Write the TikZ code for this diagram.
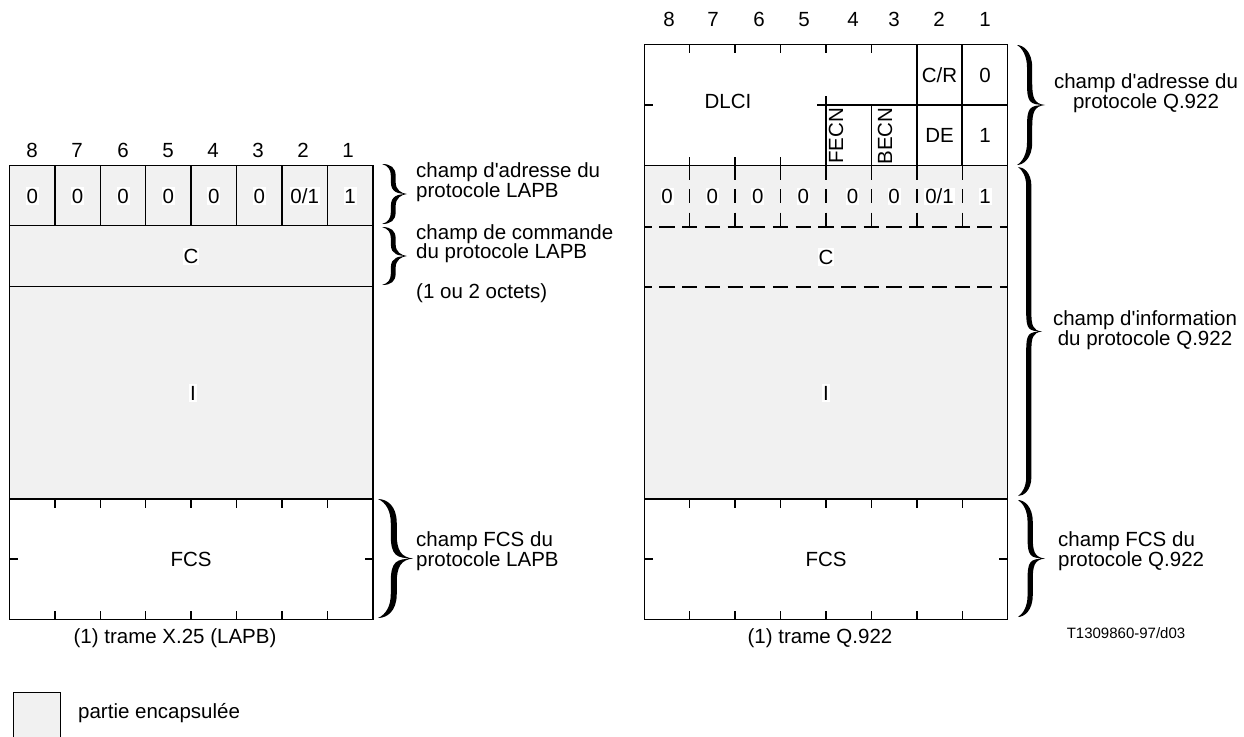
\documentclass[tikz,border=0pt]{standalone}
\usepackage{fontspec}
\setmainfont[Ligatures=TeXOff]{Liberation Sans}
\definecolor{encap}{RGB}{241,241,241}
% filled curly brace: #1 x of ends, #2 top, #3 bottom, #4 width, #5 stem thickness, #6 name of tip
\newcommand{\Cbrace}[6]{%
  \pgfmathsetmacro{\bX}{#1}%
  \pgfmathsetmacro{\bT}{#2}%
  \pgfmathsetmacro{\bB}{#3}%
  \pgfmathsetmacro{\bM}{(#2+#3)/2}%
  \pgfmathsetmacro{\bR}{#1+0.45*#4+#5/2}%
  \pgfmathsetmacro{\bL}{#1+0.45*#4-#5/2}%
  \pgfmathsetmacro{\bP}{#1+#4}%
  \pgfmathsetmacro{\bC}{min(0.8*#4,(#3-#2)/5)}%
  \fill (\bX,\bT) .. controls ({\bR-0.4*\bC},\bT) and (\bR,{\bT+0.3*\bC}) .. (\bR,{\bT+\bC})
   -- (\bR,{\bM-\bC})
   .. controls (\bR,{\bM-0.35*\bC}) and ({\bP-0.5*\bC},{\bM-0.05*\bC}) .. (\bP,\bM)
   .. controls ({\bP-0.5*\bC},{\bM+0.05*\bC}) and (\bR,{\bM+0.35*\bC}) .. (\bR,{\bM+\bC})
   -- (\bR,{\bB-\bC})
   .. controls (\bR,{\bB-0.3*\bC}) and ({\bR-0.4*\bC},\bB) .. (\bX,\bB)
   .. controls ({\bL-0.2*\bC},{\bB-0.15*\bC}) and (\bL,{\bB-0.5*\bC}) .. (\bL,{\bB-\bC})
   -- (\bL,{\bM+\bC})
   .. controls (\bL,{\bM+0.1*\bC}) and ({\bP-0.7*\bC},{\bM+0.02*\bC}) .. (\bP,\bM)
   .. controls ({\bP-0.7*\bC},{\bM-0.02*\bC}) and (\bL,{\bM-0.1*\bC}) .. (\bL,{\bM-\bC})
   -- (\bL,{\bT+\bC})
   .. controls (\bL,{\bT+0.5*\bC}) and ({\bL-0.2*\bC},{\bT+0.15*\bC}) .. (\bX,\bT) -- cycle;
  \coordinate (#6) at (\bP,\bM);
}
\begin{document}
\begin{tikzpicture}[x=1pt,y=-1pt,
  frame/.style={line width=1.5pt, line cap=rect},
  dline/.style={line width=1.5pt, dash pattern=on 15.2pt off 7.5pt, dash phase=7.6pt},
  vdline/.style={line width=1.5pt, dash pattern=on 14pt off 9.5pt},
  txt/.style={inner sep=0pt, font=\fontsize{20.5}{21}\selectfont, anchor=base},
  dig/.style={txt, fill=white, inner xsep=0.8pt, inner ysep=1.2pt, text height=14.7pt, text depth=0pt},
  lab/.style={txt, anchor=base west},
  clab/.style={txt, anchor=base},
]
\useasboundingbox (0,0) rectangle (1244,736);

% ================= left frame (X.25 / LAPB) =================
\fill[encap] (9.5,165.7) rectangle (372.8,499);
\draw[frame] (9.5,165.7) rectangle (372.8,619.3);
\draw[frame] (9.5,225.7) -- (372.8,225.7);
\draw[frame] (9.5,286.7) -- (372.8,286.7);
\draw[frame] (9.5,499) -- (372.8,499);
\foreach \i in {1,...,7}{
  \draw[frame] ({9.5+45.41*\i},165.7) -- ({9.5+45.41*\i},225.7);
  \draw[frame] ({9.5+45.41*\i},499) -- ++(0,8);
  \draw[frame] ({9.5+45.41*\i},619.3) -- ++(0,-8);
}
\draw[frame] (9.5,559) -- ++(7.5,0);
\draw[frame] (372.8,559) -- ++(-7.5,0);

\node[txt] (lbit8) at (32,157.3) {8};
\node[txt] (lbit7) at (77,157.3) {7};
\node[txt] (lbit6) at (123,157.3) {6};
\node[txt] (lbit5) at (168,157.3) {5};
\node[txt] (lbit4) at (213,157.3) {4};
\node[txt] (lbit3) at (258,157.3) {3};
\node[txt] (lbit2) at (303,157.3) {2};
\node[txt] (lbit1) at (348,157.3) {1};
\node[dig] (la8) at (32.2,203.3) {0};
\node[dig] (la7) at (77.6,203.3) {0};
\node[dig] (la6) at (123.0,203.3) {0};
\node[dig] (la5) at (168.4,203.3) {0};
\node[dig] (la4) at (213.8,203.3) {0};
\node[dig] (la3) at (259.2,203.3) {0};
\node[dig] (la2) at (304.7,203.3) {0/1};
\node[dig] (la1) at (350.1,203.3) {1};
\node[dig] (lC) at (191,263.8) {C};
\node[dig] (lI) at (193,400.3) {I};
\node[txt] (lFCS) at (191,566.3) {FCS};
\node[clab] (lcap) at (175,643) {(1) trame X.25 (LAPB)};

% braces + labels (left)
\Cbrace{382}{164}{224}{25}{4.8}{lbA}
\Cbrace{382}{227}{285}{25}{4.8}{lbC}
\Cbrace{378}{499}{618}{35}{6}{lbF}
\node[lab] (ladr1) at (416,177) {champ d'adresse du};
\node[lab] (ladr2) at (416,197) {protocole LAPB};
\node[lab] (lcmd1) at (416,239) {champ de commande};
\node[lab] (lcmd2) at (416,258) {du protocole LAPB};
\node[lab] (loct) at (416,298) {(1 ou 2 octets)};
\node[lab] (lfcs1) at (416,546) {champ FCS du};
\node[lab] (lfcs2) at (416,566) {protocole LAPB};

% ================= right frame (Q.922) =================
\fill[encap] (644.3,165.7) rectangle (1007.7,499);
% dashed verticals in the first encapsulated row
\foreach \i in {1,...,7}
  \draw[vdline] ({644.3+45.42*\i},165.7) -- ({644.3+45.42*\i},227);
\draw[dline] (644.3,227) -- (1007.7,227);
\draw[dline] (644.3,287) -- (1007.7,287);
\draw[frame] (644.3,44.3) rectangle (1007.7,619.3);
\draw[frame] (644.3,165.7) -- (1007.7,165.7);
\draw[frame] (644.3,499) -- (1007.7,499);
% address octets
\foreach \i in {1,...,5}
  \draw[frame] ({644.3+45.42*\i},44.3) -- ++(0,8);
\foreach \i in {1,...,3}
  \draw[frame] ({644.3+45.42*\i},165.7) -- ++(0,-8);
\draw[frame] (644.3,105) -- ++(8,0);
\draw[frame] (818,105) -- (1007.7,105);
\draw[frame] (826,105) -- ++(0,-8);
\draw[frame] (826,105) -- (826,165.7);
\draw[frame] (871.4,105) -- (871.4,165.7);
\draw[frame] (916.8,44.3) -- (916.8,165.7);
\draw[frame] (962.2,44.3) -- (962.2,165.7);
% FCS ticks
\foreach \i in {1,...,7}{
  \draw[frame] ({644.3+45.42*\i},499) -- ++(0,8);
  \draw[frame] ({644.3+45.42*\i},619.3) -- ++(0,-8);
}
\draw[frame] (644.3,559) -- ++(7.5,0);
\draw[frame] (1007.7,559) -- ++(-7.5,0);

\node[txt] (rbit8) at (669,26.3) {8};
\node[txt] (rbit7) at (713,26.3) {7};
\node[txt] (rbit6) at (759,26.3) {6};
\node[txt] (rbit5) at (804,26.3) {5};
\node[txt] (rbit4) at (853,26.3) {4};
\node[txt] (rbit3) at (894,26.3) {3};
\node[txt] (rbit2) at (939,26.3) {2};
\node[txt] (rbit1) at (985,26.3) {1};
\node[txt] (dlci) at (728,108.3) {DLCI};
\node[txt] (cr) at (939.5,82.3) {C/R};
\node[txt] (ea0) at (985,82.3) {0};
\node[txt] (de) at (939.5,142.8) {DE};
\node[txt] (ea1) at (985,142.8) {1};
\node[txt, anchor=center, rotate=90] (fecn) at (836,136) {FECN};
\node[txt, anchor=center, rotate=90] (becn) at (885,136) {BECN};
\node[dig] (ra8) at (667,203.8) {0};
\node[dig] (ra7) at (712.4,203.8) {0};
\node[dig] (ra6) at (757.9,203.8) {0};
\node[dig] (ra5) at (803.3,203.8) {0};
\node[dig] (ra4) at (852.5,203.8) {0};
\node[dig] (ra3) at (894.1,203.8) {0};
\node[dig] (ra2) at (939.5,203.8) {0/1};
\node[dig] (ra1) at (985,203.8) {1};
\node[dig] (rC) at (826,264.3) {C};
\node[dig] (rI) at (826,400.3) {I};
\node[txt] (rFCS) at (826,566.3) {FCS};
\node[clab] (rcap) at (820,643) {(1) trame Q.922};
\node[anchor=base, inner sep=0pt, font=\fontsize{15}{17}\selectfont] (ref) at (1126,638) {T1309860-97/d03};

% braces + labels (right)
\Cbrace{1017}{45}{165}{28}{5.2}{rbA}
\Cbrace{1018}{167}{496}{24}{5.2}{rbI}
\Cbrace{1018}{500}{617}{27}{5.2}{rbF}
\node[clab] (radr1) at (1146,88) {champ d'adresse du};
\node[clab] (radr2) at (1146,108) {protocole Q.922};
\node[clab] (rinf1) at (1145,325) {champ d'information};
\node[clab] (rinf2) at (1145,345) {du protocole Q.922};
\node[lab] (rfcs1) at (1058,546) {champ FCS du};
\node[lab] (rfcs2) at (1058,566) {protocole Q.922};

% ================= legend =================
\draw[fill=encap, line width=1pt] (13.5,692) rectangle (60,745);
\node[lab] (legtxt) at (78,718) {partie encapsulée};
\end{tikzpicture}
\end{document}
